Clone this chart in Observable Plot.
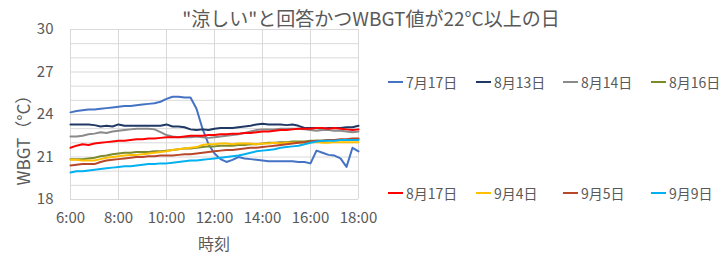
<!DOCTYPE html>
<html>
<head>
<meta charset="utf-8">
<script src="https://cdn.jsdelivr.net/npm/d3@7"></script>
<script src="https://cdn.jsdelivr.net/npm/@observablehq/plot@0.6"></script>
<style>
  html, body { margin: 0; padding: 0; background: #ffffff; }
  #wrap { position: relative; width: 724px; height: 259px; font-family: "Noto Sans CJK JP", "Noto Sans", sans-serif; color: #595959; overflow: hidden; }
  #wrap svg { position: absolute; left: 0; top: 0; }
  .title { position: absolute; left: 371px; top: 17px; transform: translate(-50%, -50%); font-size: 19px; white-space: nowrap; }
  .ytitle { position: absolute; left: 22px; top: 136px; transform: translate(-50%, -50%) rotate(-90deg); font-size: 17px; white-space: nowrap; }
  .xtitle { position: absolute; left: 214px; top: 243px; transform: translate(-50%, -50%); font-size: 16px; white-space: nowrap; }
  .leg { position: absolute; display: flex; align-items: center; font-size: 14px; white-space: nowrap; transform: translateY(-50%); }
  .leg .sw { width: 15px; height: 2px; margin-right: 3px; }
</style>
</head>
<body>
<div id="wrap"></div>
<script>
const times = ["6:00","6:15","6:30","6:45","7:00","7:15","7:30","7:45","8:00","8:15","8:30","8:45",
  "9:00","9:15","9:30","9:45","10:00","10:15","10:30","10:45","11:00","11:15","11:30","11:45",
  "12:00","12:15","12:30","12:45","13:00","13:15","13:30","13:45","14:00","14:15","14:30","14:45",
  "15:00","15:15","15:30","15:45","16:00","16:15","16:30","16:45","17:00","17:15","17:30","17:45","18:00"];

const seriesNames = ["7月17日","8月13日","8月14日","8月16日","8月17日","9月4日","9月5日","9月9日"];
const seriesColors = ["#4472C4","#1F3864","#8A8A8A","#7B8A2B","#FF0000","#FFC000","#B8472A","#00B0F0"];

const s0717 = [24.15,24.25,24.3,24.35,24.35,24.4,24.45,24.5,24.55,24.6,24.6,24.65,
  24.7,24.75,24.8,24.9,25.1,25.25,25.25,25.2,25.2,24.4,23.0,21.9,
  21.25,20.85,20.65,20.8,21.0,20.9,20.85,20.8,20.75,20.7,20.7,20.7,
  20.7,20.7,20.65,20.65,20.55,21.45,21.3,21.15,21.1,20.9,20.3,21.65,21.4];
const s0813 = [23.3,23.3,23.3,23.3,23.25,23.15,23.2,23.15,23.3,23.2,23.2,23.2,
  23.2,23.2,23.2,23.2,23.3,23.15,23.15,23.1,22.95,22.9,22.95,22.9,
  23.0,23.05,23.05,23.05,23.1,23.15,23.2,23.3,23.35,23.3,23.3,23.3,
  23.25,23.3,23.2,23.05,23.05,23.05,23.0,23.05,23.05,23.05,23.1,23.1,23.2];
const s0814 = [22.45,22.45,22.5,22.6,22.65,22.75,22.7,22.8,22.85,22.9,22.95,23.0,
  23.0,23.0,22.95,22.75,22.55,22.45,22.4,22.4,22.4,22.45,22.4,22.35,
  22.4,22.45,22.5,22.55,22.6,22.7,22.8,22.9,22.95,22.95,22.95,23.0,
  23.0,23.0,23.0,22.95,22.9,22.85,22.9,22.9,22.85,22.85,22.8,22.75,22.8];
const s0816 = [20.85,20.85,20.85,20.9,20.95,21.05,21.1,21.2,21.25,21.3,21.3,21.35,
  21.35,21.35,21.4,21.4,21.45,21.5,21.55,21.6,21.6,21.65,21.7,21.75,
  21.75,21.8,21.8,21.8,21.85,21.85,21.9,21.9,21.95,22.0,22.0,22.05,
  22.05,22.1,22.1,22.1,22.15,22.15,22.15,22.2,22.2,22.2,22.2,22.2,22.25];
const s0817 = [21.65,21.8,21.9,21.85,21.95,22.0,22.05,22.1,22.15,22.15,22.2,22.25,
  22.25,22.3,22.3,22.35,22.4,22.4,22.4,22.45,22.5,22.5,22.5,22.55,
  22.55,22.6,22.6,22.65,22.65,22.7,22.7,22.75,22.8,22.8,22.85,22.9,
  22.9,22.95,23.0,23.0,23.0,23.05,23.05,23.0,23.05,23.0,22.95,22.9,22.95];
const s0904 = [20.8,20.8,20.75,20.75,20.75,20.85,20.95,21.0,21.05,21.1,21.15,21.15,
  21.2,21.25,21.3,21.35,21.4,21.5,21.55,21.6,21.65,21.7,21.85,21.9,
  21.9,21.95,21.95,21.9,21.95,21.95,21.95,21.9,21.95,21.95,22.0,21.95,
  22.0,22.0,22.0,22.0,22.05,22.05,22.0,22.0,22.05,22.05,22.05,22.05,22.05];
const s0905 = [20.4,20.45,20.5,20.5,20.5,20.65,20.75,20.8,20.85,20.9,20.95,21.0,
  21.0,21.05,21.05,21.1,21.1,21.1,21.15,21.2,21.2,21.25,21.3,21.35,
  21.4,21.45,21.5,21.5,21.55,21.6,21.65,21.65,21.7,21.75,21.8,21.85,
  21.9,21.95,22.0,22.05,22.1,22.15,22.15,22.2,22.2,22.25,22.25,22.3,22.3];
const s0909 = [19.9,20.0,20.0,20.05,20.1,20.15,20.2,20.25,20.3,20.35,20.35,20.4,
  20.45,20.5,20.5,20.55,20.55,20.6,20.65,20.7,20.75,20.75,20.8,20.85,
  20.9,20.95,21.0,21.05,21.1,21.2,21.3,21.4,21.45,21.5,21.55,21.65,
  21.7,21.75,21.8,21.9,22.0,22.1,22.15,22.15,22.15,22.2,22.2,22.2,22.2];

const xTickLabels = ["6:00","8:00","10:00","12:00","14:00","16:00","18:00"];
const yTicks = [18, 21, 24, 27, 30];
const yGrid = [18,19,20,21,22,23,24,25,26,27,28,29,30];

const toH = s => { const [h, m] = s.split(":").map(Number); return h + m / 60; };
const allSeries = [s0717, s0813, s0814, s0816, s0817, s0904, s0905, s0909];
const data = allSeries.flatMap((arr, k) => arr.map((v, i) => ({ name: seriesNames[k], t: toH(times[i]), v })));
const xTickH = xTickLabels.map(toH);

const chart = Plot.plot({
  width: 724, height: 259,
  marginLeft: 70, marginRight: 366, marginTop: 29, marginBottom: 60,
  style: { fontFamily: "'Noto Sans CJK JP', 'Noto Sans', sans-serif", fontSize: "15px", color: "#595959", background: "transparent", overflow: "visible" },
  x: { domain: [6, 18] },
  y: { domain: [18, 30] },
  color: { domain: seriesNames, range: seriesColors },
  marks: [
    Plot.ruleY(yGrid, { stroke: "#D9D9D9", strokeWidth: 1 }),
    Plot.ruleX(xTickH, { stroke: "#D9D9D9", strokeWidth: 1 }),
    Plot.line(data, { x: "t", y: "v", z: "name", stroke: "name", strokeWidth: 2 }),
    Plot.axisX(xTickH, { tickSize: 0, tickPadding: 13, tickFormat: (d, i) => xTickLabels[i], label: null, fill: "#595959", fontSize: 15 }),
    Plot.axisY(yTicks, { tickSize: 0, tickPadding: 17, label: null, fill: "#595959", fontSize: 15 })
  ]
});

const wrap = document.getElementById("wrap");
wrap.appendChild(chart);

const title = document.createElement("div");
title.className = "title";
title.textContent = "\"涼しい\"と回答かつWBGT値が22°C以上の日";
wrap.appendChild(title);

const yt = document.createElement("div");
yt.className = "ytitle";
yt.textContent = "WBGT（°C）";
wrap.appendChild(yt);

const xt = document.createElement("div");
xt.className = "xtitle";
xt.textContent = "時刻";
wrap.appendChild(xt);

const legX = [388, 476, 563, 651];
const legY = [82, 193];
seriesNames.forEach((n, k) => {
  const d = document.createElement("div");
  d.className = "leg";
  d.style.left = legX[k % 4] + "px";
  d.style.top = legY[Math.floor(k / 4)] + "px";
  const sw = document.createElement("span");
  sw.className = "sw";
  sw.style.background = seriesColors[k];
  const tx = document.createElement("span");
  tx.textContent = n;
  d.appendChild(sw);
  d.appendChild(tx);
  wrap.appendChild(d);
});
</script>
</body>
</html>
